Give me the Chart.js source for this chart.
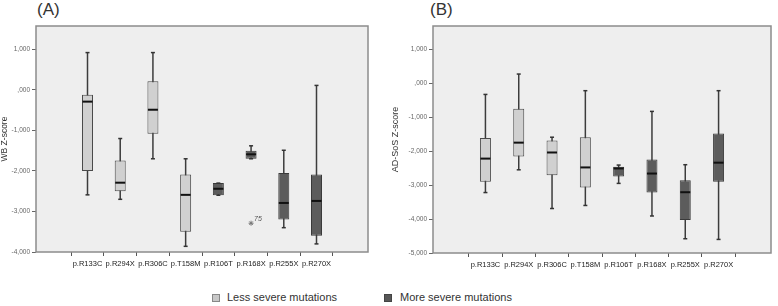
<!DOCTYPE html>
<html>
<head>
<meta charset="utf-8">
<script src="https://cdn.jsdelivr.net/npm/chart.js@4.4.1/dist/chart.umd.min.js"></script>
<style>
body{margin:0;background:#fff;width:778px;height:306px;position:relative;overflow:hidden;font-family:"Liberation Sans",Arial,sans-serif;}
canvas{position:absolute;top:0;}
#chartA{left:0;}
#chartB{left:390px;}
.tag{position:absolute;top:1px;font-size:17px;line-height:18px;color:#333;}
.leg{position:absolute;top:291px;font-size:11px;line-height:13px;color:#333;}
.sq{position:absolute;top:294px;width:6px;height:6px;border:1px solid #888;}
</style>
</head>
<body>
<div class="tag" style="left:37px">(A)</div>
<div class="tag" style="left:430px">(B)</div>
<canvas id="chartA" width="389" height="280"></canvas>
<canvas id="chartB" width="388" height="280"></canvas>
<div class="sq" style="left:212px;background:#c8c8c8"></div>
<span class="leg" style="left:227px">Less severe mutations</span>
<div class="sq" style="left:384px;background:#575757;border-color:#444"></div>
<span class="leg" style="left:400px">More severe mutations</span>

<script>
const mutations = ['p.R133C','p.R294X','p.R306C','p.T158M','p.R106T','p.R168X','p.R255X','p.R270X'];
const severity = ['less','less','less','less','more','more','more','more'];

// WB Z-score (A)
const wbMax    = [0.92, -1.20, 0.92, -1.70, -2.30, -1.38, -1.49, 0.11];
const wbQ3     = [-0.12, -1.74, 0.21, -2.09, -2.30, -1.50, -2.05, -2.09];
const wbMedian = [-0.29, -2.29, -0.49, -2.59, -2.44, -1.59, -2.79, -2.74];
const wbQ1     = [-2.00, -2.50, -1.08, -3.50, -2.60, -1.70, -3.20, -3.60];
const wbMin    = [-2.59, -2.70, -1.70, -3.86, -2.60, -1.70, -3.40, -3.80];
const wbOutlierIdx = [5];
const wbOutlierVal = [-3.29];
const wbOutlierLabel = ['75'];
const wbTicks = [-4, -3, -2, -1, 0, 1];

// AD-SoS Z-score (B)
const sosMax    = [-0.33, 0.27, -1.59, -0.22, -2.41, -0.83, -2.40, -0.22];
const sosQ3     = [-1.61, -0.75, -1.69, -1.59, -2.46, -2.25, -2.86, -1.48];
const sosMedian = [-2.22, -1.75, -2.04, -2.48, -2.51, -2.66, -3.21, -2.34];
const sosQ1     = [-2.90, -2.16, -2.71, -3.07, -2.75, -3.22, -4.03, -2.90];
const sosMin    = [-3.22, -2.55, -3.69, -3.60, -2.95, -3.91, -4.58, -4.60];
const sosTicks = [-5, -4, -3, -2, -1, 0, 1];

function fmtSpss(v){
    let s = Math.abs(v).toFixed(3).replace('.', ',');
    if (s.startsWith('0,')) s = s.slice(1);
    return (v < 0 ? '-' : '') + s;
}

const plotBg = {
    id: 'plotBg',
    beforeDraw(chart){
        const a = chart.chartArea, ctx = chart.ctx;
        ctx.save();
        ctx.fillStyle = '#eeeeee';
        ctx.fillRect(a.left, a.top, a.right - a.left, a.bottom - a.top);
        ctx.restore();
    },
    afterDraw(chart){
        const a = chart.chartArea, ctx = chart.ctx;
        ctx.save();
        ctx.strokeStyle = '#8c8c8c';
        ctx.lineWidth = 1.5;
        ctx.strokeRect(a.left, a.top, a.right - a.left, a.bottom - a.top);
        ctx.restore();
    }
};

const outlierText = {
    id: 'outlierText',
    afterDatasetsDraw(chart, args, opts){
        if (!opts.idx) return;
        const ctx = chart.ctx;
        ctx.save();
        ctx.font = 'italic 7px "Liberation Sans", Arial, sans-serif';
        ctx.fillStyle = '#555';
        ctx.textBaseline = 'bottom';
        opts.idx.forEach((i, k) => {
            const x = chart.scales.x.getPixelForValue(i);
            const y = chart.scales.y.getPixelForValue(opts.val[k]);
            ctx.fillText(opts.label[k], x + 3, y - 1);
        });
        ctx.restore();
    }
};

function construirGrafico(id, cfg){
    const idx = mutations.map((m, i) => i);
    const boxes = (grp) => idx.filter(i => severity[i] === grp).map(i => ({x: i, y: [cfg.q1[i], cfg.q3[i]]}));
    const datasets = [
        {
            type: 'bar',
            data: idx.map(i => ({x: i, y: [cfg.min[i], cfg.max[i]]})),
            backgroundColor: '#3c3c3c',
            maxBarThickness: 1.5,
            grouped: false,
            order: 5
        },
        {
            type: 'bar',
            data: boxes('less'),
            backgroundColor: '#d0d0d0',
            borderColor: '#4a4a4a',
            borderWidth: 1,
            borderSkipped: false,
            maxBarThickness: 11,
            grouped: false,
            order: 4
        },
        {
            type: 'bar',
            data: boxes('more'),
            backgroundColor: '#5c5c5c',
            borderColor: '#3a3a3a',
            borderWidth: 1,
            borderSkipped: false,
            maxBarThickness: 11,
            grouped: false,
            order: 3
        },
        {
            type: 'scatter',
            data: idx.map(i => ({x: i, y: cfg.median[i]})),
            pointStyle: 'line',
            radius: 5,
            borderWidth: 2,
            borderColor: '#111',
            order: 1
        },
        {
            type: 'scatter',
            data: idx.map(i => ({x: i, y: cfg.max[i]})).concat(idx.map(i => ({x: i, y: cfg.min[i]}))),
            pointStyle: 'line',
            radius: 2,
            borderWidth: 1.5,
            borderColor: '#333',
            order: 2
        }
    ];
    if (cfg.outIdx){
        datasets.push({
            type: 'scatter',
            data: cfg.outIdx.map((i, k) => ({x: i, y: cfg.outVal[k]})),
            pointStyle: 'star',
            radius: 2.5,
            borderWidth: 1,
            borderColor: '#777',
            order: 0
        });
    }

    new Chart(document.getElementById(id), {
        type: 'bar',
        data: { datasets: datasets },
        options: {
            responsive: false,
            animation: false,
            events: [],
            layout: { padding: { top: 26, right: cfg.padRight, left: 0, bottom: 0 } },
            plugins: {
                legend: { display: false },
                tooltip: { enabled: false },
                outlierText: { idx: cfg.outIdx, val: cfg.outVal, label: cfg.outLabel }
            },
            scales: {
                x: {
                    type: 'linear',
                    min: -0.94,
                    max: 7.94,
                    afterBuildTicks: axis => { axis.ticks = idx.map(i => ({value: i})); },
                    afterFit: axis => { axis.height = cfg.xHeight; },
                    ticks: {
                        autoSkip: false,
                        maxRotation: 0,
                        padding: 3,
                        color: '#222',
                        font: { family: '"Liberation Sans", Arial, sans-serif', size: cfg.xFont },
                        callback: v => mutations[v]
                    },
                    grid: { drawOnChartArea: false, drawTicks: true, tickLength: 4, color: '#555' },
                    border: { display: false }
                },
                y: {
                    type: 'linear',
                    min: cfg.yMin,
                    max: cfg.yMax,
                    afterBuildTicks: axis => { axis.ticks = cfg.ticks.map(v => ({value: v})); },
                    afterFit: axis => { axis.width = cfg.yWidth; },
                    ticks: {
                        padding: 2,
                        color: '#666',
                        font: { family: '"Liberation Sans", Arial, sans-serif', size: 6.5 },
                        callback: v => fmtSpss(v)
                    },
                    grid: { drawOnChartArea: false, drawTicks: true, tickLength: 4, color: '#666' },
                    border: { display: false },
                    title: {
                        display: true,
                        text: cfg.title,
                        color: '#333',
                        padding: { top: 0, bottom: 0 },
                        font: { family: '"Liberation Sans", Arial, sans-serif', size: cfg.titleFont }
                    }
                }
            }
        },
        plugins: [plotBg, outlierText]
    });
}

construirGrafico('chartA', {
    max: wbMax, q3: wbQ3, median: wbMedian, q1: wbQ1, min: wbMin,
    outIdx: wbOutlierIdx, outVal: wbOutlierVal, outLabel: wbOutlierLabel,
    ticks: wbTicks, yMin: -4, yMax: 1.576, title: 'WB Z-score',
    yWidth: 36, xHeight: 28, padRight: 21, xFont: 7.5, titleFont: 8.5
});

construirGrafico('chartB', {
    max: sosMax, q3: sosQ3, median: sosMedian, q1: sosQ1, min: sosMin,
    ticks: sosTicks, yMin: -5, yMax: 1.685, title: 'AD-SoS Z-score',
    yWidth: 43, xHeight: 27, padRight: 2, xFont: 7.5, titleFont: 9
});
</script>
</body>
</html>
